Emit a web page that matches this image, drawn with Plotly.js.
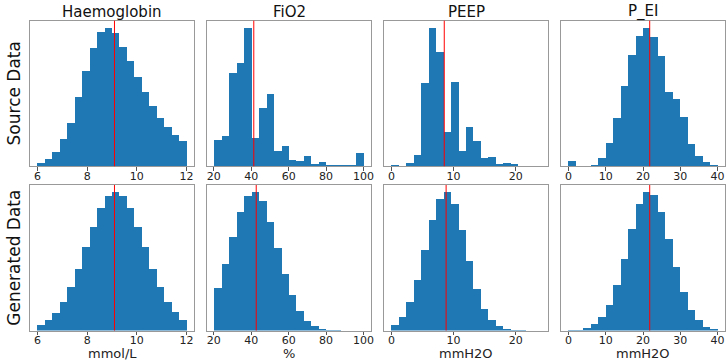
<!DOCTYPE html>
<html><head><meta charset="utf-8">
<script src="https://cdn.plot.ly/plotly-3.0.1.min.js"></script>
<style>html,body{margin:0;padding:0;background:#fff}#chart{width:726px;height:361px}</style>
</head><body><div id="chart"></div>
<script>
const variables = ["Haemoglobin", "FiO2", "PEEP", "P_EI"];
const units = ["mmol/L", "%", "mmH2O", "mmH2O"];
const rowLabels = ["Source Data", "Generated Data"];
const binMin = [6, 20.4, 0, 0];
const binMax = [12, 100, 24, 40];
const tickVals = [[6, 8, 10, 12], [20, 40, 60, 80, 100], [0, 10, 20], [0, 10, 20, 30, 40]];

const srcHaemoglobin = [11, 21, 42, 81, 130, 208, 285, 354, 400, 414, 398, 356, 315, 267, 221, 179, 145, 116, 93, 74];
const srcFiO2 = [77, 89, 278, 308, 414, 84, 173, 217, 45, 61, 20, 17, 29, 7, 13, 5, 3, 4, 3, 39];
const srcPEEP = [5, 0, 9, 34, 248, 414, 340, 101, 252, 46, 116, 76, 25, 28, 6, 10, 7, 0, 2, 1];
const srcPEI = [16, 0, 1, 3, 24, 70, 143, 239, 332, 389, 414, 386, 328, 221, 202, 146, 66, 31, 14, 5];

const genHaemoglobin = [15, 31, 53, 85, 130, 184, 250, 310, 366, 402, 415, 403, 367, 311, 250, 184, 131, 85, 54, 30];
const genFiO2 = [127, 198, 280, 354, 403, 415, 387, 325, 248, 170, 105, 59, 29, 14, 5, 2, 1, 0, 0, 0];
const genPEEP = [16, 41, 84, 151, 240, 330, 395, 415, 379, 300, 209, 125, 64, 30, 12, 5, 2, 1, 0, 0];
const genPEI = [1, 3, 7, 18, 39, 76, 137, 215, 303, 378, 415, 407, 355, 275, 189, 115, 61, 30, 11, 4];

const srcMeans = [9.1, 41.4, 8.5, 21.8];
const genMeans = [9.1, 42.7, 8.8, 21.8];

const rows = [[srcHaemoglobin, srcFiO2, srcPEEP, srcPEI], [genHaemoglobin, genFiO2, genPEEP, genPEI]];
const means = [srcMeans, genMeans];

const W = 726, H = 361;
const colLeft = [30, 207, 384, 561];
const colWidth = 164;
const rowTop = [20.7, 185];
const rowHeight = 145.5;

const traces = [];
const layout = {
  width: W, height: H,
  margin: {l: 0, r: 0, t: 0, b: 0},
  paper_bgcolor: '#fff', plot_bgcolor: '#fff',
  showlegend: false,
  bargap: 0,
  font: {family: 'DejaVu Sans, sans-serif', color: '#222'},
  shapes: [], annotations: []
};

for (let r = 0; r < 2; r++) {
  for (let c = 0; c < 4; c++) {
    const idx = r * 4 + c + 1;
    const xa = idx === 1 ? 'xaxis' : 'xaxis' + idx;
    const ya = idx === 1 ? 'yaxis' : 'yaxis' + idx;
    const xr = idx === 1 ? 'x' : 'x' + idx;
    const yr = idx === 1 ? 'y' : 'y' + idx;
    const counts = rows[r][c];
    const n = counts.length;
    const bw = (binMax[c] - binMin[c]) / n;
    const centers = counts.map((_, i) => binMin[c] + bw * (i + 0.5));
    traces.push({
      type: 'bar', x: centers, y: counts, width: bw,
      marker: {color: '#1f77b4', line: {width: 0}},
      xaxis: xr, yaxis: yr, hoverinfo: 'skip'
    });
    const span = binMax[c] - binMin[c];
    const ymax = Math.max(...counts);
    layout[xa] = {
      domain: [colLeft[c] / W, (colLeft[c] + colWidth) / W],
      range: [binMin[c] - 0.05 * span, binMax[c] + 0.05 * span],
      anchor: yr,
      tickvals: tickVals[c],
      ticks: 'outside', ticklen: 3.5, tickwidth: 1, tickcolor: '#555',
      ticklabelstandoff: -4,
      tickfont: {size: 11, color: '#222'},
      showgrid: false, zeroline: false,
      showline: true, mirror: true, linecolor: '#999', linewidth: 1
    };
    layout[ya] = {
      domain: [1 - (rowTop[r] + rowHeight) / H, 1 - rowTop[r] / H],
      range: [0, ymax * 1.05],
      anchor: xr,
      showticklabels: false, ticks: '',
      showgrid: false, zeroline: false,
      showline: true, mirror: true, linecolor: '#999', linewidth: 1
    };
    layout.shapes.push({
      type: 'line', xref: xr, yref: yr + ' domain',
      x0: means[r][c], x1: means[r][c], y0: 0, y1: 1,
      line: {color: '#ff0000', width: 1}
    });
  }
}

for (let c = 0; c < 4; c++) {
  const cx = (colLeft[c] + colWidth / 2) / W;
  layout.annotations.push({
    text: variables[c], xref: 'paper', yref: 'paper',
    x: cx, y: 1 - 11.5 / H, xanchor: 'center', yanchor: 'middle',
    showarrow: false, font: {size: 15, color: '#111'}
  });
  layout.annotations.push({
    text: units[c], xref: 'paper', yref: 'paper',
    x: cx, y: 1 - 353 / H, xanchor: 'center', yanchor: 'middle',
    showarrow: false, font: {size: 13, color: '#222'}
  });
}
for (let r = 0; r < 2; r++) {
  layout.annotations.push({
    text: rowLabels[r], xref: 'paper', yref: 'paper',
    x: 14 / W, y: 1 - (rowTop[r] + rowHeight / 2) / H,
    xanchor: 'center', yanchor: 'middle', textangle: -90,
    showarrow: false, font: {size: 17, color: '#111'}
  });
}

Plotly.newPlot('chart', traces, layout, {staticPlot: true, displayModeBar: false});
</script>
</body></html>
